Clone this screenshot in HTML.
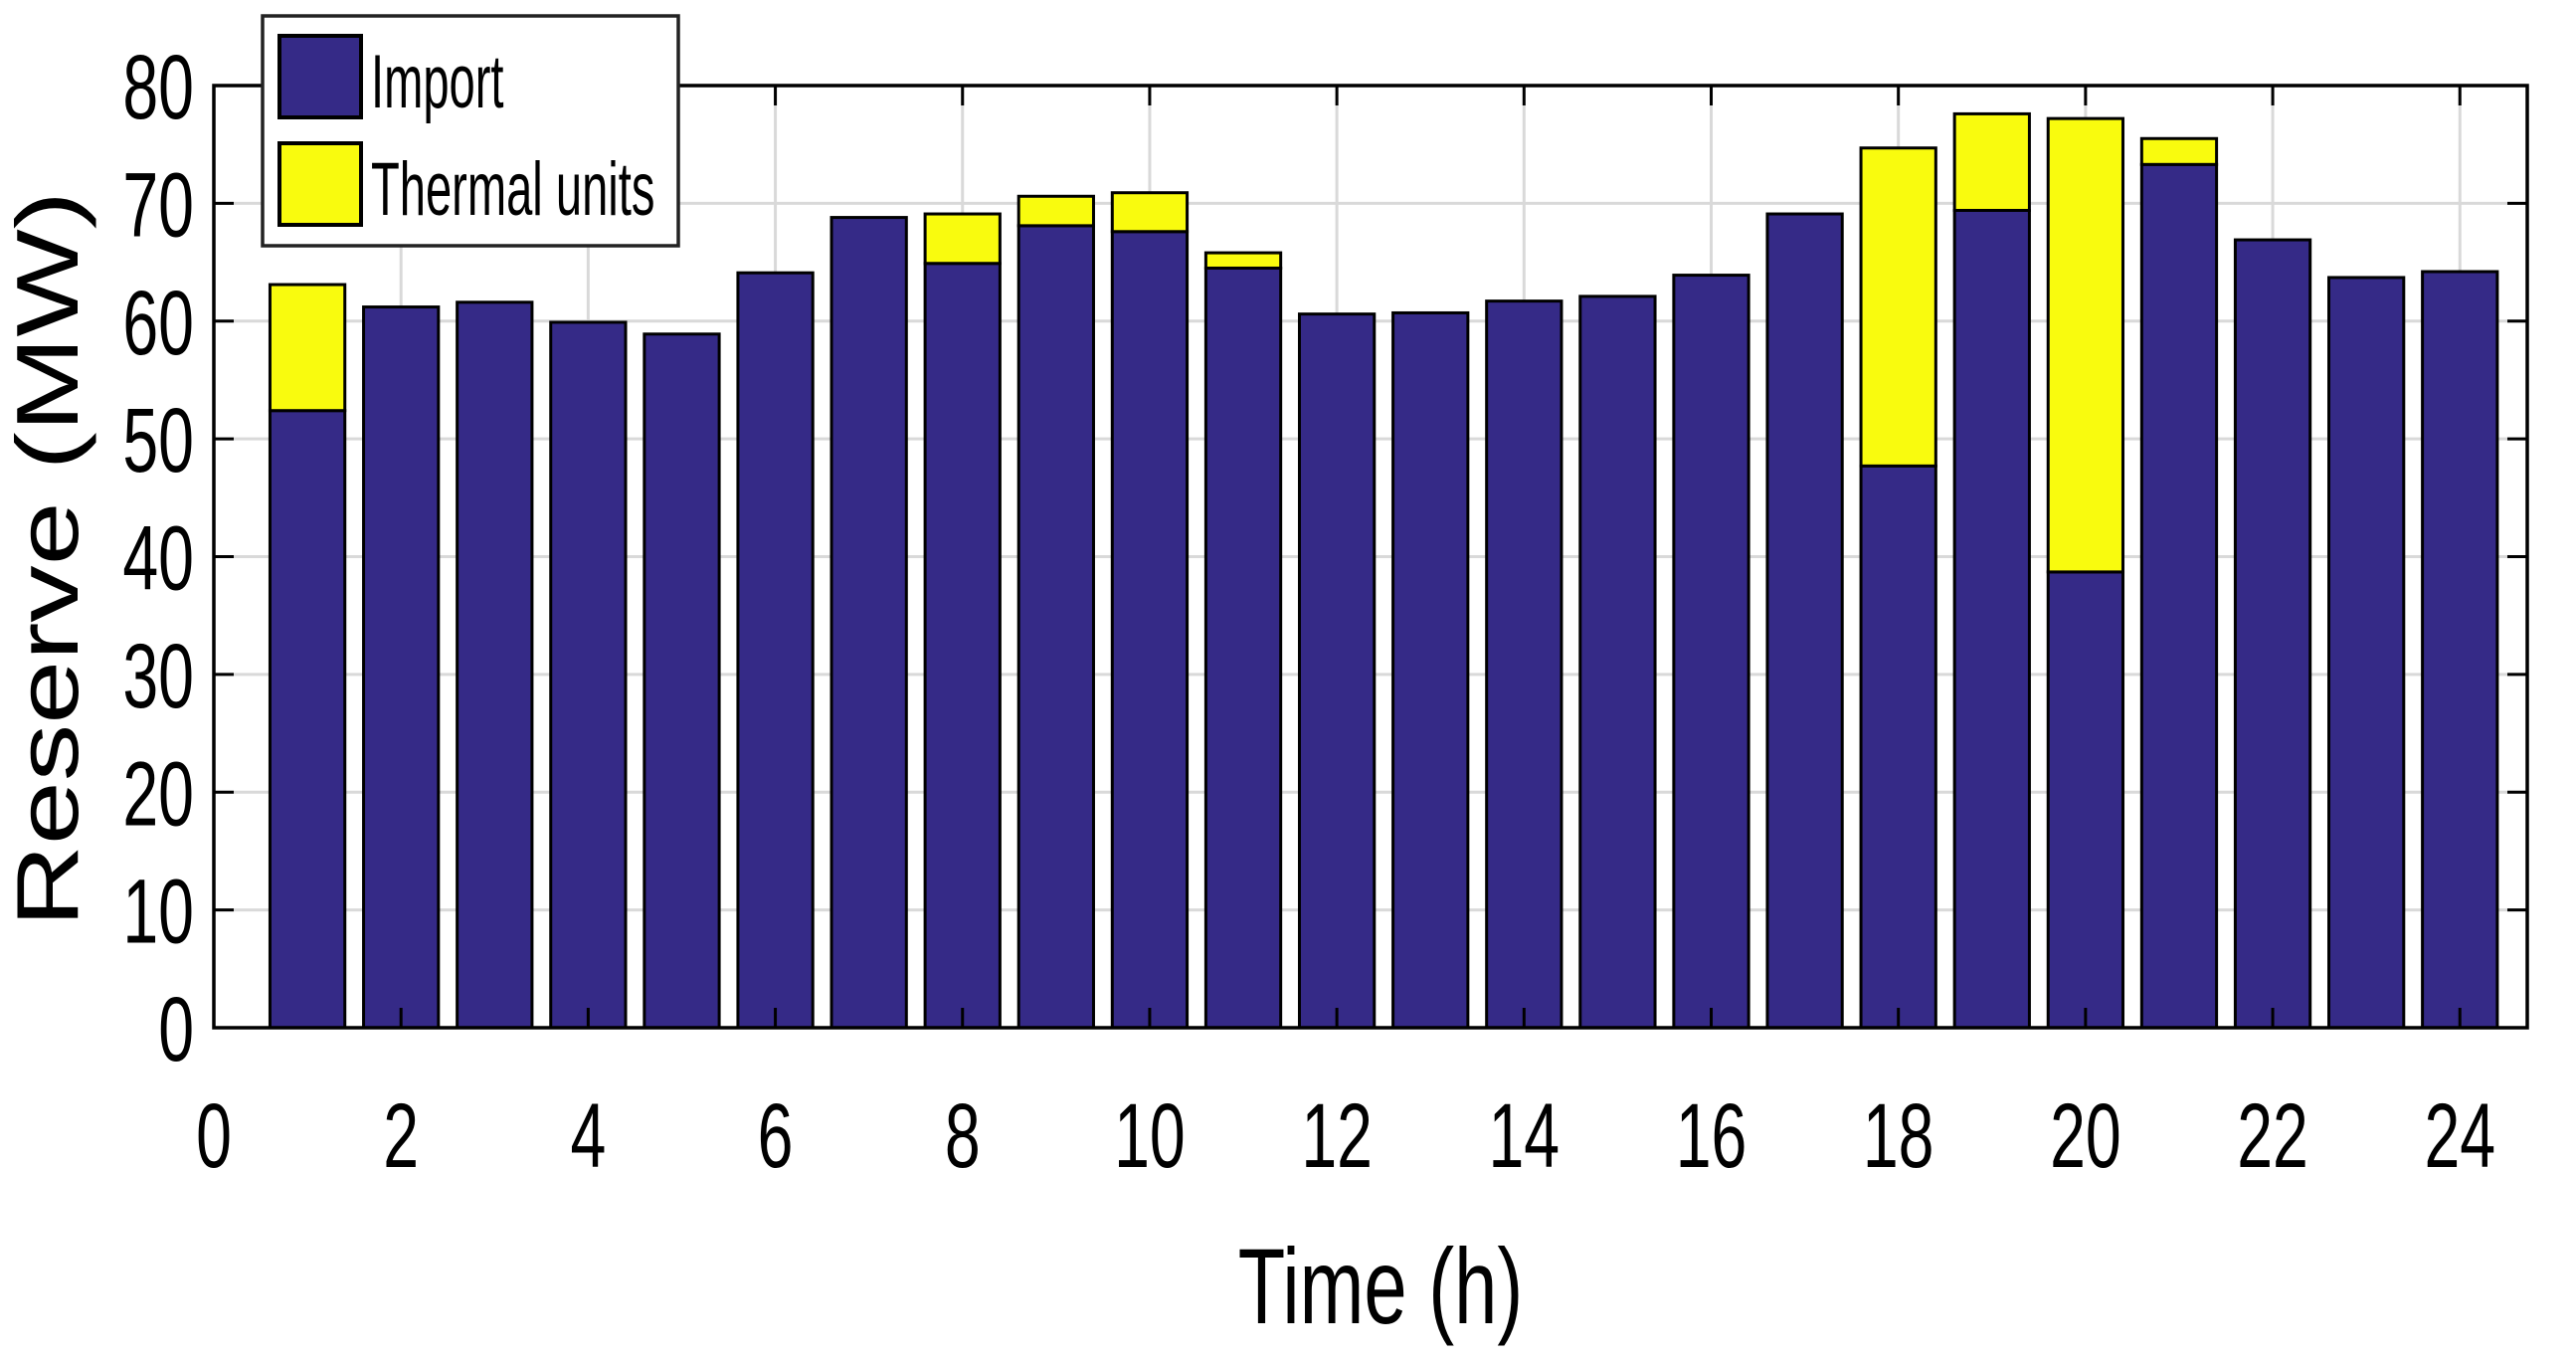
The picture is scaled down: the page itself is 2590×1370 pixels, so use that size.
<!DOCTYPE html>
<html><head><meta charset="utf-8"><style>html,body{margin:0;padding:0;background:#fff}svg{display:block}</style></head>
<body>
<svg id="chart" width="2590" height="1370" viewBox="0 0 2590 1370" xmlns="http://www.w3.org/2000/svg" font-family="Liberation Sans, sans-serif"></svg>
<script>
const hours = [1,2,3,4,5,6,7,8,9,10,11,12,13,14,15,16,17,18,19,20,21,22,23,24];
const importVals = [52.4,61.2,61.6,59.9,58.9,64.1,68.8,64.9,68.1,67.6,64.5,60.6,60.7,61.7,62.1,63.9,69.1,47.7,69.4,38.7,73.3,66.9,63.7,64.2];
const thermalVals = [10.7,0,0,0,0,0,0,4.2,2.5,3.3,1.3,0,0,0,0,0,0,27.0,8.2,38.5,2.2,0,0,0];
const xTicks = [0,2,4,6,8,10,12,14,16,18,20,22,24];
const yTicks = [0,10,20,30,40,50,60,70,80];

const NS="http://www.w3.org/2000/svg";
const svg=document.getElementById('chart');
const L=215,R=2541,T=86,B=1033;
const xMin=0,xMax=24.72,yMin=0,yMax=80;
const xs=v=>L+(v-xMin)/(xMax-xMin)*(R-L);
const ys=v=>B-(v-yMin)/(yMax-yMin)*(B-T);
function mk(tag,attrs,parent){const e=document.createElementNS(NS,tag);for(const k in attrs)e.setAttribute(k,attrs[k]);(parent||svg).appendChild(e);return e;}

const grid=mk('g',{});


xTicks.forEach(t=>{if(t>0)mk('line',{x1:xs(t),x2:xs(t),y1:T,y2:B,stroke:'#d9d9d9','stroke-width':3},grid);});
yTicks.forEach(t=>{if(t>0)mk('line',{x1:L,x2:R,y1:ys(t),y2:ys(t),stroke:'#d9d9d9','stroke-width':3},grid);});

const bars=mk('g',{});


const bw=0.8;
hours.forEach((h,i)=>{
  const x0=xs(h-bw/2),w=xs(h+bw/2)-xs(h-bw/2);
  const r1=mk('rect',{x:x0,y:ys(importVals[i]),width:w,height:ys(0)-ys(importVals[i]),fill:'#352a87',stroke:'#000','stroke-width':3},bars);
  
  
  if(thermalVals[i]>0){
    const top=importVals[i]+thermalVals[i];
    const r2=mk('rect',{x:x0,y:ys(top),width:w,height:ys(importVals[i])-ys(top),fill:'#f9fb0e',stroke:'#000','stroke-width':3},bars);
    
    
  }
});

const axes=mk('g',{});


mk('rect',{x:L,y:T,width:R-L,height:B-T,fill:'none',stroke:'#000','stroke-width':3.5},axes);
xTicks.forEach(t=>{
  if(t>0){mk('line',{x1:xs(t),x2:xs(t),y1:B,y2:B-20,stroke:'#000','stroke-width':3},axes);
  mk('line',{x1:xs(t),x2:xs(t),y1:T,y2:T+20,stroke:'#000','stroke-width':3},axes);}
  const g=mk('g',{transform:`translate(${xs(t)},1173) scale(0.7,1)`},axes);
  const tx=mk('text',{'text-anchor':'middle','font-size':92,fill:'#000'},g);
  tx.textContent=t;
  
  
});
yTicks.forEach(t=>{
  if(t>0){mk('line',{x1:L,x2:L+20,y1:ys(t),y2:ys(t),stroke:'#000','stroke-width':3},axes);
  mk('line',{x1:R,x2:R-20,y1:ys(t),y2:ys(t),stroke:'#000','stroke-width':3},axes);}
  const g=mk('g',{transform:`translate(195,${ys(t)+33}) scale(0.7,1)`},axes);
  const tx=mk('text',{'text-anchor':'end','font-size':92,fill:'#000'},g);
  tx.textContent=t;
  
  
});

const yl=mk('text',{transform:'translate(78,562) rotate(-90)','text-anchor':'middle','font-size':88,fill:'#000',textLength:740,lengthAdjust:'spacingAndGlyphs'});
yl.textContent='Reserve (MW)';



const xg=mk('g',{transform:'translate(1388,1330) scale(0.72,1)'});
const xl=mk('text',{'text-anchor':'middle','font-size':108,fill:'#000'},xg);
xl.textContent='Time (h)';



const leg=mk('g',{});


mk('rect',{x:264,y:16,width:418,height:231,fill:'#fff',stroke:'#222','stroke-width':3.5},leg);
const items=[['Import','#352a87',36],['Thermal units','#f9fb0e',144]];
items.forEach(([lab,c,y])=>{
  const sw=mk('rect',{x:281,y:y,width:82,height:82,fill:c,stroke:'#000','stroke-width':4},leg);
  
  
  const g=mk('g',{transform:`translate(373,${y+72}) scale(0.62,1)`},leg);
  const t=mk('text',{'font-size':76,fill:'#000'},g);
  t.textContent=lab;
  
  
});
</script>
</body></html>
